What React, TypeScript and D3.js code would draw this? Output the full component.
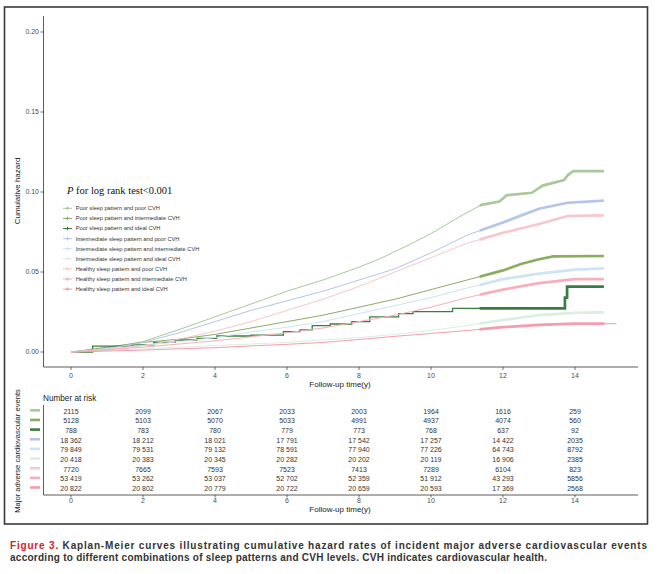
import { useEffect } from "react";
import * as d3 from "d3";

type Pt = [number, number];

// cumulative hazard: [follow-up year, hazard]
const poorPoor: Pt[] = [[0, 0], [1, 0.0025], [2, 0.0065], [3, 0.014], [4, 0.022], [5, 0.03], [6, 0.038], [7, 0.045], [8, 0.053], [8.6, 0.0585], [9.3, 0.066], [10, 0.074], [10.8, 0.0846], [11.4, 0.092], [11.9, 0.094], [12.1, 0.098], [12.8, 0.0995], [13.1, 0.104], [13.7, 0.1075], [13.8, 0.1106], [13.95, 0.113], [14.8, 0.113]];
const poorInt: Pt[] = [[0, 0], [1, 0.003], [2, 0.006], [3, 0.008], [4, 0.011], [5, 0.015], [6, 0.019], [7, 0.023], [8, 0.028], [9, 0.033], [10, 0.039], [11, 0.045], [12, 0.051], [12.5, 0.055], [13, 0.058], [13.4, 0.0598], [14.8, 0.06]];
const poorIdeal: Pt[] = [[0, 0], [0.6, 0.0037], [1.7, 0.0045], [2.3, 0.006], [2.9, 0.0075], [3.5, 0.0085], [4.05, 0.01], [5, 0.0105], [5.9, 0.0127], [6.36, 0.0138], [6.7, 0.0165], [7.2, 0.0175], [7.8, 0.019], [8.3, 0.022], [9.1, 0.024], [9.5, 0.0252], [10.6, 0.0273], [13.72, 0.034], [13.78, 0.0408], [14.8, 0.0408]];
const intPoor: Pt[] = [[0, 0], [1, 0.002], [2, 0.006], [3, 0.012], [4, 0.019], [5, 0.026], [6, 0.032], [7, 0.038], [8, 0.045], [9, 0.052], [10, 0.062], [11, 0.073], [12, 0.081], [13, 0.0895], [13.8, 0.0933], [14.8, 0.0946]];
const intInt: Pt[] = [[0, 0], [1, 0.002], [2, 0.004], [3, 0.0065], [4, 0.009], [5, 0.0125], [6, 0.0155], [7, 0.019], [8, 0.024], [9, 0.029], [10, 0.034], [11, 0.04], [12, 0.0455], [13, 0.049], [14, 0.0515], [14.8, 0.0523]];
const intIdeal: Pt[] = [[0, 0], [1, 0.001], [2, 0.002], [3, 0.003], [4, 0.004], [5, 0.005], [6, 0.006], [7, 0.0075], [8, 0.009], [9, 0.011], [10, 0.0135], [11, 0.0165], [12, 0.02], [13, 0.023], [14, 0.0245], [14.8, 0.0248]];
const healthyPoor: Pt[] = [[0, 0], [1, 0.0015], [2, 0.004], [3, 0.008], [4, 0.013], [5, 0.019], [6, 0.026], [7, 0.033], [8, 0.041], [9, 0.05], [10, 0.059], [11, 0.068], [12, 0.0745], [13, 0.08], [13.8, 0.085], [14.8, 0.0854]];
const healthyInt: Pt[] = [[0, 0], [1, 0.0015], [2, 0.003], [3, 0.005], [4, 0.007], [5, 0.0095], [6, 0.012], [7, 0.015], [8, 0.019], [9, 0.023], [10, 0.028], [11, 0.034], [12, 0.039], [13, 0.043], [14, 0.0455], [14.8, 0.0456]];
const healthyIdeal: Pt[] = [[0, 0], [1, 0.0006], [2, 0.0012], [3, 0.002], [4, 0.0027], [5, 0.0038], [6, 0.0048], [7, 0.006], [8, 0.0078], [9, 0.0098], [10, 0.0116], [11, 0.0134], [12, 0.0155], [13, 0.017], [14, 0.0177], [14.8, 0.0177], [15.15, 0.0177]];

const groupLabels = [
  "Poor sleep pattern and poor CVH",
  "Poor sleep pattern and intermediate CVH",
  "Poor sleep pattern and ideal CVH",
  "Intermediate sleep pattern and poor CVH",
  "Intermediate sleep pattern and intermediate CVH",
  "Intermediate sleep pattern and ideal CVH",
  "Healthy sleep pattern and poor CVH",
  "Healthy sleep pattern and intermediate CVH",
  "Healthy sleep pattern and ideal CVH",
];
const groupColors = ["#a9c99a", "#8aad62", "#3b7d40", "#b3c5ec", "#cde4f2", "#dbefe1", "#f8c6cf", "#f6afbc", "#f59dad"];
const groupCurves = [poorPoor, poorInt, poorIdeal, intPoor, intInt, intIdeal, healthyPoor, healthyInt, healthyIdeal];

const riskTimes = [0, 2, 4, 6, 8, 10, 12, 14];
const riskCounts = [
  [2115, 2099, 2067, 2033, 2003, 1964, 1616, 259],
  [5128, 5103, 5070, 5033, 4991, 4937, 4074, 560],
  [788, 783, 780, 779, 773, 768, 637, 92],
  [18362, 18212, 18021, 17791, 17542, 17257, 14422, 2035],
  [79849, 79531, 79132, 78591, 77940, 77226, 64743, 8792],
  [20418, 20383, 20345, 20282, 20202, 20119, 16906, 2385],
  [7720, 7665, 7593, 7523, 7413, 7289, 6104, 823],
  [53419, 53262, 53037, 52702, 52359, 51912, 43293, 5856],
  [20822, 20802, 20779, 20722, 20659, 20593, 17369, 2568],
];
const yTicks = [0, 0.05, 0.1, 0.15, 0.2];
const CENSOR_FROM = 11.35;

const sans = "'Liberation Sans', Arial, sans-serif";
const axisCol = "#333";

const x = d3.scaleLinear().domain([0, 14]).range([71, 575]);
const y = d3.scaleLinear().domain([0, 0.2]).range([352, 32]);
const riskRow = d3.scalePoint<number>().domain(d3.range(9)).range([411.3, 488.5]);

const fmtCount = (n: number) => (n >= 10000 ? d3.format(",")(n).replace(",", " ") : String(n));

export default function App() {
  useEffect(() => {
    document.body.style.margin = "0";
  }, []);

  const censorX0 = x(CENSOR_FROM);
  const censorX1 = x(14.82);

  return (
    <svg width={662} height={574} style={{ display: "block", background: "#fff" }}>
      <defs>
        <clipPath id="censor">
          <rect x={censorX0} y={0} width={censorX1 - censorX0} height={400} />
        </clipPath>
      </defs>
      <rect x={4.5} y={7} width={643} height={517} fill="none" stroke="#3a3a3a" strokeWidth={1.6} />

      {/* main axes */}
      <line x1={43.5} x2={43.5} y1={16} y2={367} stroke={axisCol} strokeWidth={0.8} />
      <line x1={43.5} x2={638} y1={367} y2={367} stroke={axisCol} strokeWidth={0.8} />
      {yTicks.map(t => (
        <g key={t}>
          <line x1={40.5} x2={43.5} y1={y(t)} y2={y(t)} stroke={axisCol} strokeWidth={0.7} />
          <text x={39} y={y(t)} dy="0.35em" textAnchor="end" fontFamily={sans} fontSize={7} fill="#4d4d4d">
            {d3.format(".2f")(t)}
          </text>
        </g>
      ))}
      {riskTimes.map(t => (
        <g key={t}>
          <line x1={x(t)} x2={x(t)} y1={367} y2={370} stroke={axisCol} strokeWidth={0.7} />
          <text x={x(t)} y={376} dy="0.35em" textAnchor="middle" fontFamily={sans} fontSize={7} fill="#4d4d4d">
            {t}
          </text>
        </g>
      ))}
      <text x={340} y={384} dy="0.35em" textAnchor="middle" fontFamily={sans} fontSize={8} fill="#222">
        Follow-up time(y)
      </text>
      <text transform="translate(17,191) rotate(-90)" textAnchor="middle" dy="0.35em" fontFamily={sans} fontSize={8} fill="#222">
        Cumulative hazard
      </text>

      {/* curves, thicker where censoring marks pile up */}
      {groupCurves.map((pts, i) => {
        const path = d3.line<Pt>()
          .x(d => x(d[0]))
          .y(d => y(d[1]))
          .curve(i === 2 ? d3.curveStepAfter : d3.curveLinear)(pts) ?? "";
        return (
          <g key={i}>
            <path d={path} fill="none" stroke={groupColors[i]} strokeWidth={i === 2 ? 1.3 : 1} />
            <path d={path} fill="none" stroke={groupColors[i]} strokeWidth={2.7} clipPath="url(#censor)" />
          </g>
        );
      })}

      {/* legend */}
      <text x={67} y={190} dy="0.35em" fontFamily="'Liberation Serif', 'Times New Roman', serif" fontSize={10.5} fill="#111">
        <tspan fontStyle="italic">P</tspan> for log rank test&lt;0.001
      </text>
      {groupLabels.map((lab, i) => {
        const ly = 208.3 + i * 10.1;
        return (
          <g key={lab}>
            <line x1={63} x2={72} y1={ly} y2={ly} stroke={groupColors[i]} strokeWidth={1} />
            <line x1={65.8} x2={69.2} y1={ly} y2={ly} stroke={groupColors[i]} strokeWidth={1.2} />
            <line x1={67.5} x2={67.5} y1={ly - 1.7} y2={ly + 1.7} stroke={groupColors[i]} strokeWidth={1} />
            <text x={75.7} y={ly} dy="0.35em" fontFamily={sans} fontSize={5.7} fill="#333">
              {lab}
            </text>
          </g>
        );
      })}

      {/* risk table */}
      <text x={43} y={398} dy="0.35em" fontFamily={sans} fontSize={8.2} fill="#222">
        Number at risk
      </text>
      <text transform="translate(17,451) rotate(-90)" textAnchor="middle" dy="0.35em" fontFamily={sans} fontSize={7.6} fill="#222">
        Major adverse cardiovascular events
      </text>
      <line x1={43.5} x2={43.5} y1={405} y2={495} stroke={axisCol} strokeWidth={0.8} />
      <line x1={43.5} x2={638} y1={495} y2={495} stroke={axisCol} strokeWidth={0.8} />
      {riskCounts.map((row, i) => (
        <g key={i}>
          <line x1={30} x2={40} y1={(riskRow(i) ?? 0) - 1} y2={(riskRow(i) ?? 0) - 1} stroke={groupColors[i]} strokeWidth={2.6} />
          {row.map((n, j) => (
            <text key={j} x={x(riskTimes[j])} y={riskRow(i)} dy="0.35em" textAnchor="middle" fontFamily={sans} fontSize={7} fill="#333">
              {fmtCount(n)}
            </text>
          ))}
        </g>
      ))}
      {riskTimes.map(t => (
        <g key={t}>
          <line x1={x(t)} x2={x(t)} y1={495} y2={497.5} stroke={axisCol} strokeWidth={0.7} />
          <text x={x(t)} y={501} dy="0.35em" textAnchor="middle" fontFamily={sans} fontSize={7} fill="#4d4d4d">
            {t}
          </text>
        </g>
      ))}
      <text x={340} y={509.5} dy="0.35em" textAnchor="middle" fontFamily={sans} fontSize={8} fill="#222">
        Follow-up time(y)
      </text>

      {/* caption */}
      <text x={10} y={545} dy="0.35em" fontFamily={sans} fontWeight="bold" fontSize={10} fill="#333" textLength={637} lengthAdjust="spacing">
        <tspan fill="#d3222f">Figure 3.</tspan>
        {"  Kaplan-Meier curves illustrating cumulative hazard rates of incident major adverse cardiovascular events"}
      </text>
      <text x={10} y={557.7} dy="0.35em" fontFamily={sans} fontWeight="bold" fontSize={10} fill="#333" textLength={537} lengthAdjust="spacing">
        according to different combinations of sleep patterns and CVH levels. CVH indicates cardiovascular health.
      </text>
    </svg>
  );
}
